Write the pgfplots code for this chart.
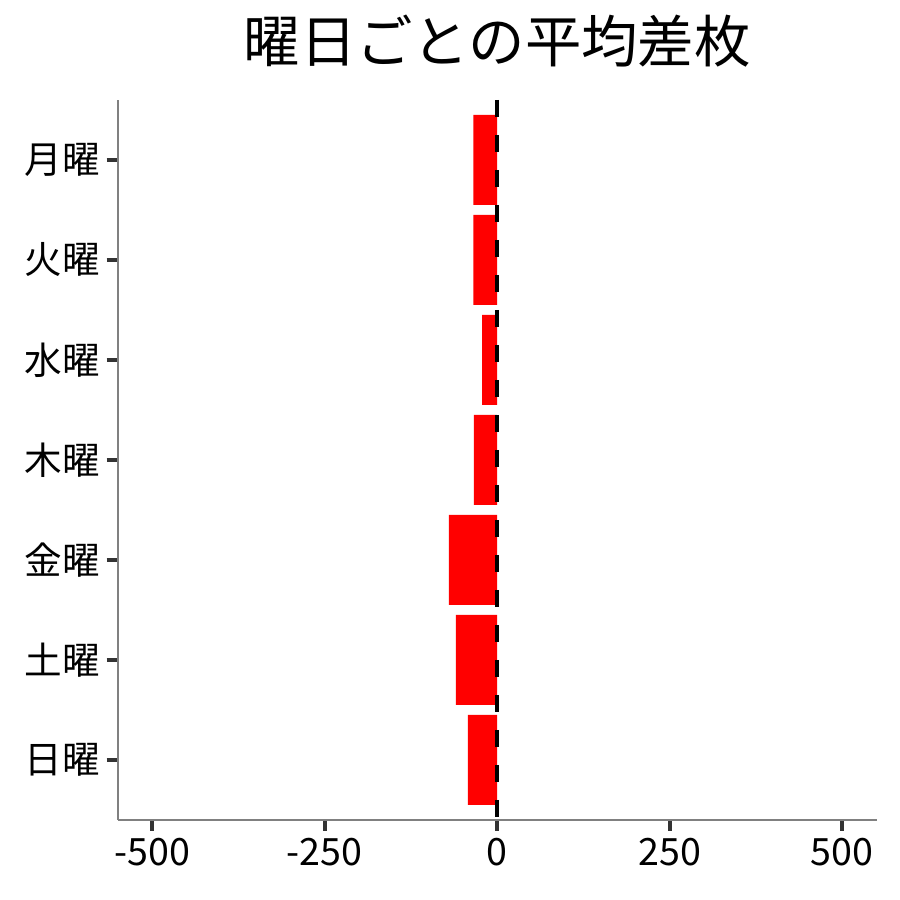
\documentclass[border=0pt]{standalone}
\usepackage{fontspec}
\setmainfont{Noto Sans CJK JP}
\usepackage{pgfplots}
\pgfplotsset{compat=1.18}
\begin{document}
\begin{tikzpicture}
\begin{axis}[
  scale only axis,
  width=379.5pt, height=360pt,
  xmin=-550, xmax=550, ymin=-0.6, ymax=6.6,
  axis x line*=bottom, axis y line*=left,
  axis line style={-, draw=black!50, line width=0.9pt},
  xtick={-500,-250,0,250,500},
  xticklabels={-500,-250,0,250,500},
  ytick={0,...,6},
  yticklabels={日曜,土曜,金曜,木曜,水曜,火曜,月曜},
  tick align=outside,
  major tick length=5.5pt,
  tick style={draw=black!80, line width=2pt},
  ticklabel style={font=\fontsize{18.8}{18.8}\selectfont},
  title={曜日ごとの平均差枚},
  title style={font=\fontsize{28.2}{28.2}\selectfont, at={(0.5,1)}, anchor=center, yshift=23.5pt},
]
\addplot[xbar, bar width=0.9, fill=red, draw=none] coordinates {
  (-42.4,0) (-59.8,1) (-69.9,2) (-33.7,3) (-21.7,4) (-34.7,5) (-34.7,6)
};
\draw[black, line width=2pt, dash pattern=on 8.5pt off 9pt] (axis cs:0,6.6) -- (axis cs:0,-0.6);
\end{axis}
\path[use as bounding box] (current axis.south west) ++(-58.85pt,-40pt) rectangle ++(450pt,450pt);
\end{tikzpicture}
\end{document}
